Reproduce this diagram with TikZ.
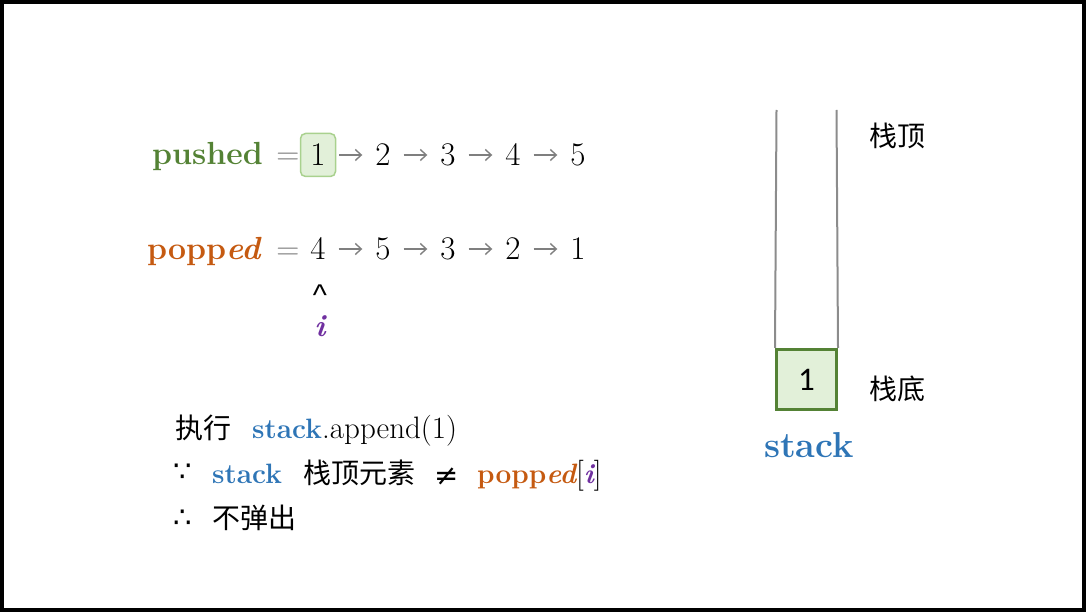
\documentclass[tikz,border=0pt]{standalone}
\usepackage{fontspec}
\newfontfamily\cjk{Noto Sans CJK SC}
\newfontfamily\carl{Carlito}
\newfontfamily\sym{DejaVu Sans}
\newfontfamily\lsans{Liberation Sans}
\usetikzlibrary{arrows.meta}
\definecolor{pgreen}{HTML}{548235}
\definecolor{porange}{HTML}{C55A11}
\definecolor{sblue}{HTML}{2E75B6}
\definecolor{ipurple}{HTML}{7030A0}
\definecolor{lgreen}{HTML}{E2F0D9}
\definecolor{mgreen}{HTML}{A9D18E}
\definecolor{arrgray}{HTML}{7F7F7F}
\definecolor{wallgray}{HTML}{8C8C8C}
\begin{document}
\begin{tikzpicture}[x=1pt,y=-1pt,
  lbl/.style={anchor=base west, inner sep=0, font=\fontsize{32}{38}\selectfont\bfseries},
  eqs/.style={anchor=base, inner sep=0, text=arrgray, font=\fontsize{32}{38}\selectfont},
  num/.style={inner sep=0, minimum width=35pt, minimum height=43pt, text height=21pt, text depth=0pt, font=\fontsize{33}{38}\selectfont},
  pbox/.style={num, fill=lgreen, draw=mgreen, line width=1.5pt, rounded corners=5pt},
  arr/.style={draw=arrgray, line width=1.4pt, -{Straight Barb[length=6pt,width=11pt]}, shorten <=3pt, shorten >=3pt},
  txt/.style={anchor=base west, inner sep=0, font=\fontsize{28}{34}\selectfont},
  rtxt/.style={anchor=base west, inner sep=0, font=\fontsize{31}{36}\selectfont},
  symb/.style={anchor=base west, inner sep=0, font=\fontsize{29}{34}\selectfont\sym},
  btxt/.style={txt, font=\fontsize{28}{34}\selectfont\bfseries, text=sblue},
  side/.style={inner sep=0, font=\fontsize{28}{34}\selectfont\cjk},
  wall/.style={draw=wallgray, line width=2pt},
]
\useasboundingbox (0,0) rectangle (1086,612);
\draw[line width=4pt] (2,2) rectangle (1084,610);

% pushed row
\node[lbl, text=pgreen] (pushedlbl) at (152,165) {pushed};
\node[eqs] (eq1) at (288,165) {=};
\node[pbox] (a1) at (318,155) {1};
\node[num] (a2) at (383,155) {2};
\node[num] (a3) at (448,155) {3};
\node[num] (a4) at (513,155) {4};
\node[num] (a5) at (578,155) {5};
\draw[arr] (a1) -- (a2);
\draw[arr] (a2) -- (a3);
\draw[arr] (a3) -- (a4);
\draw[arr] (a4) -- (a5);

% popped row
\node[lbl, text=porange] (poppedlbl) at (147,259) {popp\textit{ed}};
\node[eqs] (eq2) at (288,259) {=};
\node[num] (b1) at (318,249) {4};
\node[num] (b2) at (383,249) {5};
\node[num] (b3) at (448,249) {3};
\node[num] (b4) at (513,249) {2};
\node[num] (b5) at (578,249) {1};
\draw[arr] (b1) -- (b2);
\draw[arr] (b2) -- (b3);
\draw[arr] (b3) -- (b4);
\draw[arr] (b4) -- (b5);

\node[anchor=base, inner sep=0, font=\fontsize{30}{36}\selectfont\lsans] (caret) at (320,305) {\^{}};
\node[anchor=base, inner sep=0, text=ipurple, font=\fontsize{31}{36}\selectfont\bfseries\itshape] (iv) at (320,336) {i};

% explanation
\node[txt] (l1a) at (175,438) {\cjk 执行};
\node[btxt] (l1b) at (252,438) {stack};
\node[rtxt] (l1c) at (322,438) {.append(1)};
\node[symb] (l2a) at (173,481) {∵};
\node[btxt] (l2b) at (212,483) {stack};
\node[txt] (l2c) at (303,483) {\cjk 栈顶元素};
\node[symb] (l2d) at (434,485) {≠};
\node[rtxt] (l2e) at (477,483) {\textcolor{porange}{\fontsize{28}{34}\selectfont\bfseries popp\itshape ed}[\textcolor{ipurple}{\fontsize{28}{34}\selectfont\bfseries\itshape i}]};
\node[symb] (l3a) at (173,527) {∴};
\node[txt] (l3b) at (212,528) {\cjk 不弹出};

% stack
\coordinate (tl) at (776.5,110);
\coordinate (tr) at (836.5,110);
\node[draw=pgreen, fill=lgreen, line width=3pt, minimum width=60pt, minimum height=60pt, inner sep=0, font=\fontsize{33}{40}\selectfont\carl] (s1) at (806.5,379.5) {1};
\draw[wall] (tl) -- (s1.north west);
\draw[wall] (tr) -- (s1.north east);
\node[side] (top) at (897,136) {栈顶};
\node[side] (bot) at (897,389) {栈底};
\node[anchor=base, inner sep=0, text=sblue, font=\fontsize{36}{42}\selectfont\bfseries] (stk) at (809,457) {stack};
\end{tikzpicture}
\end{document}
